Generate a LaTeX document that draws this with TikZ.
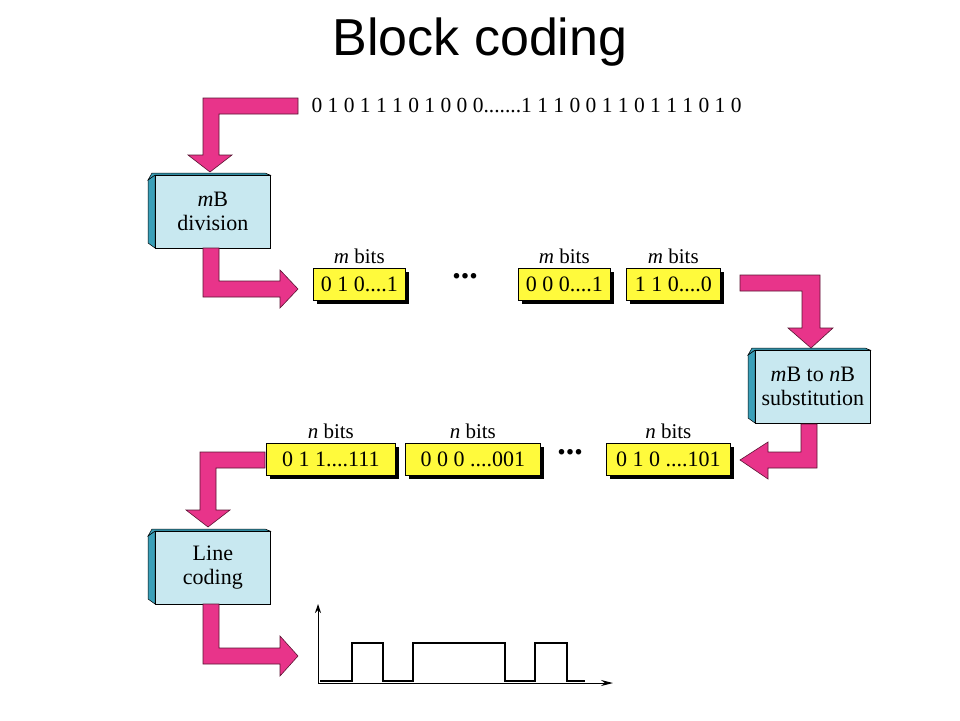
\documentclass[tikz,border=0pt]{standalone}
\usepackage{fontspec}
\usetikzlibrary{arrows.meta}
\setmainfont{Liberation Serif}
\newfontfamily\titlefont{Liberation Sans}
\definecolor{pinkA}{RGB}{232,52,138}
\definecolor{pinkD}{RGB}{90,20,50}
\definecolor{lblue}{RGB}{200,232,240}
\definecolor{teal}{RGB}{58,160,185}
\definecolor{yel}{RGB}{255,250,60}
\begin{document}
\begin{tikzpicture}[x=1pt,y=-1pt,
  arr/.style={fill=pinkA, draw=pinkD, line width=0.6pt, line join=miter},
  blk/.style={draw=black, line width=0.7pt, fill=lblue, minimum width=115pt, minimum height=73pt, align=center, font=\fontsize{22}{24}\selectfont},
  slb/.style={fill=teal, draw=black, line width=0.5pt},
  yb/.style={draw=black, line width=0.7pt, fill=yel, minimum height=32pt, font=\fontsize{22}{24}\selectfont, inner sep=0pt},
  lab/.style={font=\fontsize{21}{23}\selectfont},
  sig/.style={line width=2.6pt, line join=miter}]
\useasboundingbox (0,0) rectangle (960,720);
\node[font=\titlefont\fontsize{52}{56}\selectfont] (title) at (480,42) {Block coding};
\node[anchor=west, font=\fontsize{21.5}{23}\selectfont] (stream) at (308,106) {0 1 0 1 1 1 0 1 0 0 0.......1 1 1 0 0 1 1 0 1 1 1 0 1 0};
% blue blocks with slab
\newcommand{\myslab}[2]{\draw[slb] (#1-7,#2+5) -- (#1,#2) -- (#1,#2+73) -- (#1-7,#2+68) -- cycle;
 \draw[slb] (#1-7,#2+5) -- (#1,#2) -- (#1+115,#2) -- (#1+110,#2-2) -- (#1-3,#2-2) -- cycle;}
\myslab{155}{175}\myslab{755}{350}\myslab{155}{531}
\node[blk, anchor=north west] (div) at (155,175) {\textit{m}B\\division};
\node[blk, anchor=north west] (sub) at (755,350) {\textit{m}B to \textit{n}B\\substitution};
\node[blk, anchor=north west] (line) at (155,531) {Line\\coding};
% arrows
\draw[arr] (298,98)--(298,114)--(219,114)--(219,155)--(232,155)--(210,172)--(188,155)--(203,155)--(203,98)--cycle;
\draw[arr] (203,248)--(219,248)--(219,281)--(280,281)--(280,270)--(298,289)--(280,308)--(280,297)--(203,297)--cycle;
\draw[arr] (740,275)--(820,275)--(820,328)--(833,328)--(811,348)--(788,328)--(802,328)--(802,291)--(740,291)--cycle;
\draw[arr] (801,424)--(817,424)--(817,468)--(768,468)--(768,479)--(740,460)--(768,442)--(768,452)--(801,452)--cycle;
\draw[arr] (265,452)--(265,468)--(216,468)--(216,510)--(230,510)--(208,527)--(186,510)--(200,510)--(200,452)--cycle;
\draw[arr] (203,604)--(219,604)--(219,648)--(280,648)--(280,636)--(298,656)--(280,676)--(280,664)--(203,664)--cycle;
% yellow boxes
\foreach \n/\x/\y/\w/\t in {a/313/268/92/{0 1 0....1}, b/518/268/92/{0 0 0....1}, c/626/268/94/{1 1 0....0},
  d/266/443/129/{0 1 1....111}, e/405/443/135/{0 0 0 ....001}, f/606/443/124/{0 1 0 ....101}}{
  \fill (\x+4,\y+4) rectangle (\x+\w+4,\y+36);
  \node[yb, anchor=north west, minimum width=\w pt] (\n) at (\x,\y) {\t};
}
\foreach \n in {a,b,c}{\node[lab, above=1pt] (m\n) at (\n.north) {\textit{m} bits};}
\foreach \n in {d,e,f}{\node[lab, above=1pt] (m\n) at (\n.north) {\textit{n} bits};}
\node[font=\fontsize{34}{36}\selectfont\bfseries] (dots1) at (465,276) {...};
\node[font=\fontsize{34}{36}\selectfont\bfseries] (dots2) at (570,452) {...};
% waveform
\coordinate (o) at (318,683);
\coordinate (ytop) at (318,604);
\coordinate (xend) at (613,683);
\draw[line width=1pt, -{Stealth[length=9pt,width=6pt]}] (o) -- (ytop);
\draw[line width=1pt, -{Stealth[length=12pt,width=6pt]}] (o) -- (xend);
\draw[sig] (320,681)--(352,681)--(352,643)--(383,643)--(383,681)--(413,681)--(413,643)--(505,643)--(505,681)--(535,681)--(535,643)--(567,643)--(567,681)--(585,681);
\end{tikzpicture}
\end{document}
